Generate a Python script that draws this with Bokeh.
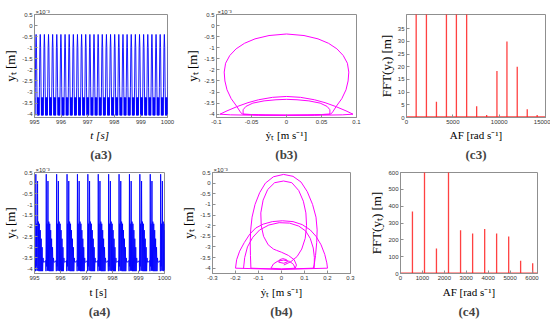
from bokeh.plotting import figure
from bokeh.layouts import column, row
from bokeh.models import Range1d, FixedTicker, Title
from bokeh.embed import file_html
from bokeh.resources import INLINE

# ---------------- data ----------------
# (a3) time series: start time of each cycle [s] and one cycle waveform (offset [s], y_t [x1e-3 m])
a3_cycle_start = [995.000, 995.156, 995.311, 995.467, 995.622, 995.778, 995.933, 996.089,
                  996.244, 996.400, 996.555, 996.711, 996.866, 997.022, 997.177, 997.333,
                  997.488, 997.644, 997.799, 997.955, 998.110, 998.266, 998.421, 998.577,
                  998.732, 998.888, 999.043, 999.199, 999.354, 999.510, 999.665, 999.821, 999.976]
a3_cycle_dt = [0.000, 0.008, 0.016, 0.030, 0.045, 0.060, 0.075, 0.090, 0.104, 0.114, 0.124, 0.134, 0.144]
a3_cycle_y = [-4.05, -3.25, -4.05, -2.80, -1.00, -0.40, -1.00, -2.80, -4.05, -3.25, -4.05, -3.25, -4.05]

# (a4) time series
a4_cycle_start = [995.0, 995.4, 995.8, 996.2, 996.6, 997.0, 997.4, 997.8, 998.2, 998.6, 999.0, 999.4, 999.8]
a4_cycle_dt = [0.000, 0.030, 0.040, 0.052, 0.066, 0.080, 0.096, 0.118, 0.134, 0.150, 0.168, 0.186,
               0.204, 0.222, 0.240, 0.258, 0.276, 0.294, 0.312, 0.330, 0.345]
a4_cycle_y = [-3.68, -3.62, -4.12, 0.42, -3.90, -1.90, -4.10, 0.10, -4.10, -1.80, -4.12, -1.90,
              -4.12, -2.20, -4.12, -2.60, -4.12, -3.00, -4.12, -3.50, -3.70]

# (b3) phase portrait loops: velocity [m/s], displacement [x1e-3 m]
b3_big_v = [0.000, 0.025, 0.045, 0.060, 0.072, 0.081, 0.087, 0.089, 0.088, 0.085, 0.079, 0.071, 0.066, 0.063,
            0.040, 0.000, -0.040, -0.063, -0.066, -0.071, -0.079, -0.085, -0.088, -0.089, -0.087, -0.081,
            -0.072, -0.060, -0.045, -0.025, 0.000]
b3_big_y = [-0.38, -0.45, -0.60, -0.80, -1.05, -1.35, -1.70, -2.10, -2.50, -2.90, -3.30, -3.65, -3.90, -4.00,
            -4.03, -4.04, -4.03, -4.00, -3.90, -3.65, -3.30, -2.90, -2.50, -2.10, -1.70, -1.35,
            -1.05, -0.80, -0.60, -0.45, -0.38]
b3_wide_v = [-0.095, -0.085, -0.070, -0.055, -0.040, -0.020, 0.000, 0.020, 0.040, 0.055, 0.070, 0.085, 0.095,
             0.080, 0.040, 0.000, -0.040, -0.080, -0.095]
b3_wide_y = [-4.00, -3.85, -3.65, -3.48, -3.35, -3.24, -3.20, -3.24, -3.35, -3.48, -3.65, -3.85, -4.00,
             -4.03, -4.05, -4.05, -4.05, -4.03, -4.00]
b3_inner_v = [-0.062, -0.062, -0.058, -0.048, -0.032, -0.015, 0.000, 0.015, 0.032, 0.048, 0.058, 0.062, 0.062,
              0.030, 0.000, -0.030, -0.062]
b3_inner_y = [-4.00, -3.80, -3.65, -3.50, -3.40, -3.35, -3.33, -3.35, -3.40, -3.50, -3.65, -3.80, -4.00,
              -4.04, -4.05, -4.04, -4.00]

# (b4) phase portrait loops
b4_outer_v = [0.009, 0.050, 0.085, 0.112, 0.135, 0.150, 0.155, 0.153, 0.148, 0.142, 0.138, 0.000,
              -0.133, -0.135, -0.136, -0.134, -0.128, -0.115, -0.095, -0.070, -0.035, 0.009]
b4_outer_y = [0.41, 0.32, 0.05, -0.40, -1.00, -1.60, -2.20, -2.80, -3.40, -3.85, -4.00, -4.05,
              -4.00, -3.40, -2.80, -2.20, -1.60, -1.00, -0.45, 0.00, 0.30, 0.41]
b4_drop_v = [0.060, 0.065, 0.055, 0.030, 0.000, -0.022, -0.035, -0.058, -0.078, -0.088, -0.090, -0.080,
             -0.060, -0.030, 0.009, 0.045, 0.075, 0.095, 0.106, 0.109, 0.103, 0.088, 0.068, 0.040, 0.010]
b4_drop_y = [-4.00, -3.85, -3.60, -3.40, -3.25, -3.16, -3.10, -2.90, -2.50, -2.00, -1.40, -0.80,
             -0.30, 0.02, 0.10, 0.02, -0.35, -0.85, -1.40, -2.00, -2.60, -3.10, -3.45, -3.70, -3.85]
b4_arch1_v = [-0.200, -0.195, -0.182, -0.162, -0.138, -0.112, -0.080, -0.040, 0.004, 0.050, 0.090, 0.125,
              0.150, 0.172, 0.188, 0.197, 0.200, 0.100, 0.000, -0.100, -0.200]
b4_arch1_y = [-4.00, -3.60, -3.20, -2.80, -2.40, -2.11, -1.93, -1.81, -1.77, -1.81, -1.95, -2.20,
              -2.50, -2.90, -3.35, -3.75, -4.00, -4.03, -4.05, -4.03, -4.00]
b4_arch2_v = [-0.165, -0.160, -0.148, -0.125, -0.095, -0.055, -0.010, 0.035, 0.075, 0.105, 0.125, 0.138,
              0.143, 0.142]
b4_arch2_y = [-4.00, -3.50, -3.00, -2.55, -2.20, -1.97, -1.86, -1.88, -2.02, -2.25, -2.60, -3.05,
              -3.50, -4.00]
b4_small_v = [-0.046, -0.035, -0.015, 0.010, 0.035, 0.052, 0.059, 0.000, -0.046]
b4_small_y = [-4.00, -3.80, -3.66, -3.62, -3.68, -3.82, -4.00, -4.04, -4.00]
b4_egg_v = [-0.012, -0.008, 0.006, 0.022, 0.026, 0.010, -0.012]
b4_egg_y = [-3.72, -3.60, -3.55, -3.60, -3.70, -3.77, -3.72]

# (c3) FFT peaks: angular frequency [rad/s], amplitude
c3_af = [1045, 2150, 3230, 4310, 5385, 6490, 7570, 8650, 9760, 10840, 11950, 13030, 14100]
c3_amp = [52.0, 50.0, 6.2, 48.0, 47.0, 45.0, 4.4, 1.0, 18.3, 30.0, 20.0, 3.3, 1.0]
c3_floor = 0.3
# (c4) FFT peaks
c4_af = [545, 1095, 1640, 2190, 2740, 3290, 3840, 4385, 4935, 5480, 6030]
c4_amp = [368, 700, 149, 680, 257, 237, 265, 237, 220, 76, 61]
c4_floor = 3.0

# ticks
yt_ticks = [0.5, 0, -0.5, -1, -1.5, -2, -2.5, -3, -3.5, -4]
t_ticks = [995, 996, 997, 998, 999, 1000]
b3_xticks = [-0.1, -0.05, 0, 0.05, 0.1]
b4_xticks = [-0.3, -0.2, -0.1, 0, 0.1, 0.2, 0.3]
c3_xticks = [0, 5000, 10000, 15000]
c3_yticks = [0, 5, 10, 15, 20, 25, 30, 35]
c4_xticks = [0, 1000, 2000, 3000, 4000, 5000, 6000]
c4_yticks = [0, 100, 200, 300, 400, 500, 600]


def tile(starts, dts, ys):
    tt, yy = [], []
    for s in starts:
        for d, y in zip(dts, ys):
            tt.append(s + d)
            yy.append(y)
    return tt, yy


AX = "#8f8f8f"
LBL = "#333333"


def make_fig(fw, fh, xr, yr, bl, br, bt, bb, xt, yt, xlabel, ylabel, title, toff,
             exp=False, xital=False, lab_so=2, title_so=2, title_size="13px"):
    p = figure(frame_width=fw, frame_height=fh, x_range=Range1d(*xr), y_range=Range1d(*yr),
               output_backend="svg", toolbar_location=None,
               min_border_left=bl, min_border_right=br, min_border_top=bt, min_border_bottom=bb,
               title=title, title_location="below")
    p.grid.visible = False
    p.outline_line_color = AX
    p.outline_line_width = 1
    p.background_fill_color = "white"
    p.border_fill_color = "white"
    for ax, ticks, lab in ((p.xaxis[0], xt, xlabel), (p.yaxis[0], yt, ylabel)):
        ax.ticker = FixedTicker(ticks=ticks)
        ax.major_label_overrides = {float(v): "%g" % v for v in ticks}
        ax.axis_line_color = AX
        ax.major_tick_line_color = AX
        ax.major_tick_in = 3
        ax.major_tick_out = 0
        ax.minor_tick_line_color = None
        ax.major_label_text_font = "Liberation Sans"
        ax.major_label_text_font_size = "6px"
        ax.major_label_text_color = LBL
        ax.major_label_standoff = 2
        ax.axis_label = lab
        ax.axis_label_text_font = "Liberation Serif"
        ax.axis_label_text_color = "black"
        ax.axis_label_standoff = 1
    p.xaxis[0].axis_label_standoff = lab_so
    p.xaxis[0].axis_label_text_font_size = "11px"
    p.yaxis[0].axis_label_text_font_size = "13px"
    p.xaxis[0].axis_label_text_font_style = "italic" if xital else "normal"
    p.yaxis[0].axis_label_text_font_style = "normal"
    p.title.text_font = "Liberation Serif"
    p.title.text_font_style = "bold"
    p.title.text_font_size = title_size
    p.title.align = "center"
    p.title.offset = toff
    p.title.standoff = title_so
    if exp:
        p.add_layout(Title(text="\u00d710\u207b\u00b3", align="left", text_font="Liberation Sans",
                           text_font_size="6px", text_font_style="normal", text_color=LBL,
                           standoff=0, offset=1), "above")
    return p


TOP = dict(lab_so=2, title_so=2, title_size="13px")
BOT = dict(lab_so=3, title_so=2, title_size="13px")

# ---------------- top row ----------------
a3 = make_fig(133, 103, (995, 1000), (-4.15, 0.5), 28, 15, 14, 47, t_ticks, yt_ticks,
              "t  [s]", "y\u209c [m]", "(a3)", 12, exp=True, xital=True, **TOP)
t, y = tile(a3_cycle_start, a3_cycle_dt, a3_cycle_y)
a3.line(t, y, line_color="#0000ff", line_width=0.9)

b3 = make_fig(140, 103, (-0.1, 0.1), (-4.15, 0.5), 28, 19, 14, 47, b3_xticks, yt_ticks,
              "\u1e8f\u209c [m s\u207b\u00b9]", "y\u209c [m]", "(b3)", 19, exp=True, **TOP)
for vv, yy in ((b3_big_v, b3_big_y), (b3_wide_v, b3_wide_y), (b3_inner_v, b3_inner_y)):
    b3.line(vv, yy, line_color="#ff00ff", line_width=1)

c3 = make_fig(139, 103, (0, 15000), (0, 40.6), 26, 5, 14, 47, c3_xticks, c3_yticks,
              "AF [rad s\u207b\u00b9]", "FFT(y\u209c) [m]", "(c3)", 14, **TOP)
c3.segment(x0=c3_af, y0=[0] * len(c3_af), x1=c3_af, y1=c3_amp, line_color="#ff2020", line_width=1.3, line_alpha=0.85)
c3.line([c3_xticks[0], c3_xticks[-1]], [c3_floor, c3_floor], line_color="#ff2020", line_width=1.2, line_alpha=0.85)

# ---------------- bottom row ----------------
a4 = make_fig(130, 101, (995, 1000), (-4.23, 0.5), 28, 14, 7, 47, t_ticks, yt_ticks,
              "t  [s]", "y\u209c [m]", "(a4)", 14, exp=True, **BOT)
t, y = tile(a4_cycle_start, a4_cycle_dt, a4_cycle_y)
a4.line(t, y, line_color="#0000ff", line_width=0.9)

b4 = make_fig(138, 101, (-0.3, 0.3), (-4.25, 0.5), 28, 16, 7, 47, b4_xticks, yt_ticks,
              "\u1e8f\u209c [m s\u207b\u00b9]", "y\u209c [m]", "(b4)", 24, exp=True, **BOT)
for vv, yy in ((b4_outer_v, b4_outer_y), (b4_drop_v, b4_drop_y), (b4_arch1_v, b4_arch1_y),
               (b4_arch2_v, b4_arch2_y), (b4_small_v, b4_small_y), (b4_egg_v, b4_egg_y)):
    b4.line(vv, yy, line_color="#ff00ff", line_width=1)

c4 = make_fig(137, 101, (0, 6250), (0, 600), 28, 5, 7, 47, c4_xticks, c4_yticks,
              "AF [rad s\u207b\u00b9]", "FFT(y\u209c) [m]", "(c4)", 21, **BOT)
c4.segment(x0=c4_af, y0=[0] * len(c4_af), x1=c4_af, y1=c4_amp, line_color="#ff2020", line_width=1.3, line_alpha=0.85)
c4.line([0, 6250], [c4_floor, c4_floor], line_color="#ff2020", line_width=1.2, line_alpha=0.85)

layout = column(row(a3, b3, c3), row(a4, b4, c4))
open("out.html", "w").write(file_html(layout, INLINE))
